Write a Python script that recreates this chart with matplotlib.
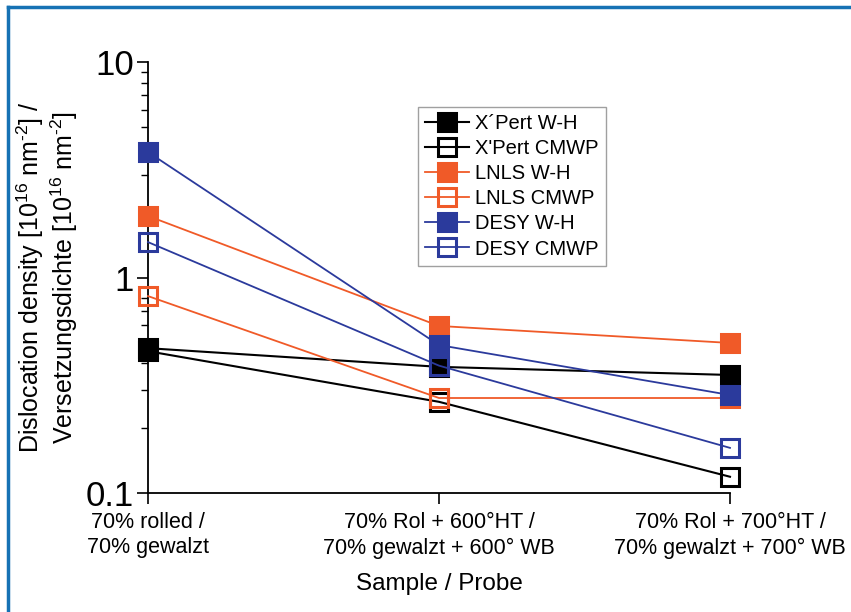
import matplotlib.pyplot as plt
from matplotlib.lines import Line2D

plt.rcParams['font.family'] = ['Liberation Sans', 'DejaVu Sans']
plt.rcParams['mathtext.fontset'] = 'custom'
plt.rcParams['mathtext.rm'] = 'Liberation Sans'
plt.rcParams['mathtext.it'] = 'Liberation Sans'

# samples (x categories)
samples = ['70% rolled /\n70% gewalzt',
           '70% Rol + 600°HT /\n70% gewalzt + 600° WB',
           '70% Rol + 700°HT /\n70% gewalzt + 700° WB']

# dislocation density values [10^16 nm^-2]
xpert_wh = [0.47, 0.385, 0.353]
xpert_cmwp = [0.455, 0.265, 0.119]
lnls_wh = [1.93, 0.596, 0.497]
lnls_cmwp = [0.82, 0.276, 0.276]
desy_wh = [3.82, 0.486, 0.285]
desy_cmwp = [1.46, 0.39, 0.162]

black = '#000000'
orange = '#f05a28'
blue = '#2b3a9c'

series = [
    ('X´Pert W-H', xpert_wh, black, True),
    ("X'Pert CMWP", xpert_cmwp, black, False),
    ('LNLS W-H', lnls_wh, orange, True),
    ('LNLS CMWP', lnls_cmwp, orange, False),
    ('DESY W-H', desy_wh, blue, True),
    ('DESY CMWP', desy_cmwp, blue, False),
]

fig = plt.figure(figsize=(8.51, 6.12), dpi=100)
ax = fig.add_axes([0.1739, 0.1944, 0.8578 - 0.1739, 0.8987 - 0.1944])

x = list(range(len(samples)))
for label, vals, col, filled in series:
    ax.plot(x, vals, color=col, lw=1.5 if col == black else 1.3,
            marker='s', markersize=12.5,
            markerfacecolor=col if filled else 'none',
            markeredgecolor=col, markeredgewidth=2.2,
            label=label, clip_on=False, zorder=3)

ax.set_yscale('log')
ax.set_ylim(0.1, 10)
ax.set_xlim(0, 2)
ax.set_xticks(x)
ax.set_xticklabels(samples, fontsize=15.5, linespacing=1.25)
ax.set_yticks([0.1, 1, 10])
ax.set_yticklabels(['0.1', '1', '10'], fontsize=25)

ax.spines['top'].set_visible(False)
ax.spines['right'].set_visible(False)
ax.spines['left'].set_linewidth(1.3)
ax.spines['bottom'].set_linewidth(1.3)
ax.tick_params(axis='y', which='major', direction='out', length=8, width=1.2, pad=2)
ax.tick_params(axis='y', which='minor', direction='out', length=5, width=1.0)
ax.tick_params(axis='x', direction='out', length=8, width=1.2, pad=6)

ax.set_ylabel('Dislocation density [10$^{16}$ nm$^{\u2010 2}$] /\nVersetzungsdichte [10$^{16}$ nm$^{\u2010 2}$]',
              fontsize=18, linespacing=1.1, labelpad=4)
ax.set_xlabel('Sample / Probe', fontsize=17.5, labelpad=10)

leg = ax.legend(loc='upper left', bbox_to_anchor=(0.464, 0.895), borderaxespad=0,
                fontsize=14.5, frameon=True, fancybox=False, edgecolor='#888888',
                handlelength=2.2, handletextpad=0.3, labelspacing=0.3,
                borderpad=0.35, markerscale=1.05)
leg.get_frame().set_linewidth(1.0)

# blue frame on the left and top edge
fig.add_artist(Line2D([0.0094, 0.0094], [0, 0.989], color='#1672b4', lw=2.5,
                      transform=fig.transFigure))
fig.add_artist(Line2D([0.0094, 1], [0.989, 0.989], color='#1672b4', lw=2.5,
                      transform=fig.transFigure))

fig.savefig('out.png', dpi=100)
